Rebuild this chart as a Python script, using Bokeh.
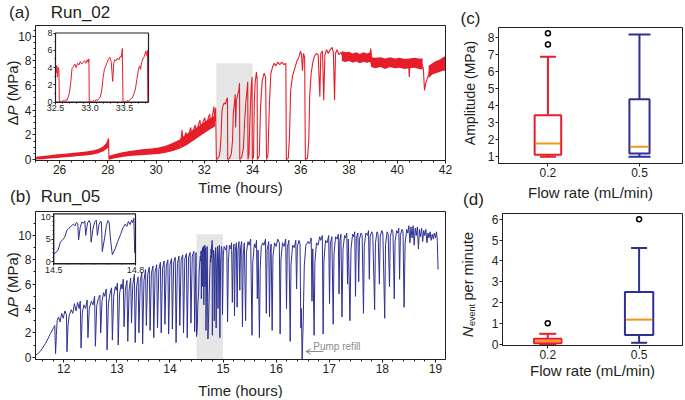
import math
from bokeh.plotting import figure
from bokeh.models import (Range1d, LinearAxis, FixedTicker, SingleIntervalTicker,
                          Label, Arrow, OpenHead)
from bokeh.embed import file_html
from bokeh.resources import INLINE

# ======================= DATA =======================
# ---- Run_02 (panel a): noisy bands (time h, lower MPa, upper MPa)
r02_band1_t = [25.0, 25.3, 25.6, 25.9, 26.2, 26.5, 26.8, 27.1, 27.4, 27.6, 27.8, 27.95, 28.04]
r02_band1_lo = [0.0, 0.02, 0.08, 0.12, 0.18, 0.22, 0.28, 0.32, 0.40, 0.50, 0.65, 0.85, 1.0]
r02_band1_hi = [0.22, 0.28, 0.35, 0.42, 0.46, 0.52, 0.58, 0.64, 0.75, 0.85, 1.05, 1.35, 1.7]
r02_band2_t = [28.06, 28.3, 28.6, 28.9, 29.2, 29.5, 29.8, 30.1, 30.4, 30.7, 31.0]
r02_band2_lo = [0.0, 0.1, 0.2, 0.28, 0.32, 0.36, 0.40, 0.45, 0.55, 0.70, 0.90]
r02_band2_hi = [0.3, 0.45, 0.58, 0.70, 0.78, 0.85, 0.90, 0.98, 1.12, 1.35, 1.65]
r02_band3_t = [31.0, 31.3, 31.6, 31.9, 32.2, 32.45]
r02_band3_lo = [0.9, 1.2, 1.6, 2.0, 2.4, 2.7]
r02_band3_hi = [1.7, 2.1, 2.5, 2.9, 3.3, 3.6]
r02_band4_t = [37.70, 37.85, 38.00, 38.15, 38.30, 38.45, 38.60, 38.75, 38.88, 38.92, 39.10,
               39.30, 39.50, 39.70, 39.90, 40.10, 40.30, 40.50, 40.70, 40.90, 41.05]
r02_band4_lo = [8.0, 7.9, 8.0, 7.85, 7.95, 7.8, 7.9, 7.85, 7.9, 7.5, 7.4,
                7.5, 7.35, 7.5, 7.4, 7.45, 7.35, 7.4, 7.45, 7.35, 7.3]
r02_band4_hi = [8.8, 8.7, 8.75, 8.6, 8.7, 8.55, 8.7, 8.6, 8.7, 8.3, 8.25,
                8.3, 8.2, 8.3, 8.2, 8.25, 8.15, 8.2, 8.25, 8.2, 8.2]
r02_band5_t = [41.30, 41.45, 41.60, 41.75, 41.90, 42.0]
r02_band5_lo = [6.6, 6.9, 7.0, 7.1, 7.2, 7.2]
r02_band5_hi = [7.6, 7.8, 8.0, 8.1, 8.3, 8.4]

# ---- Run_02 line segments (time h, dP MPa)
r02_drop28 = [(27.96, 1.3), (28.00, 1.55), (28.03, 1.7), (28.045, 0.0), (28.07, 0.15), (28.10, 0.3)]
r02_saw = [
    (31.00, 1.3), (31.05, 1.9), (31.08, 2.4), (31.11, 1.3), (31.18, 1.8), (31.24, 2.2), (31.28, 1.5),
    (31.36, 2.1), (31.44, 2.6), (31.48, 1.9), (31.55, 2.4), (31.62, 2.8), (31.66, 2.1), (31.74, 2.7),
    (31.82, 3.2), (31.86, 2.4), (31.94, 3.0), (32.02, 3.4), (32.06, 2.7), (32.14, 3.2), (32.22, 3.7),
    (32.26, 2.9), (32.33, 3.5), (32.40, 4.3), (32.43, 3.1), (32.47, 4.2), (32.50, 0.0), (32.56, 0.1),
    (32.62, 0.3), (32.66, 0.8), (32.70, 2.2), (32.73, 3.9), (32.78, 4.4), (32.83, 4.6), (32.88, 4.5),
    (32.93, 4.9), (32.96, 5.0), (32.97, 0.0), (33.05, 0.1), (33.12, 0.5), (33.17, 1.5), (33.20, 3.7),
    (33.25, 4.6), (33.28, 5.3), (33.30, 2.6), (33.33, 4.8), (33.38, 5.2), (33.43, 5.6), (33.46, 6.2),
    (33.47, 0.0), (33.55, 0.2), (33.62, 0.9), (33.67, 3.1), (33.72, 4.6), (33.77, 5.6), (33.80, 6.3),
    (33.81, 0.0), (33.85, 0.4), (33.90, 3.8), (33.95, 6.0), (33.98, 6.7), (33.99, 0.0), (34.04, 0.2),
    (34.07, 4.5), (34.11, 6.3), (34.16, 7.1), (34.19, 6.5), (34.20, 0.0), (34.28, 0.3), (34.33, 4.2),
    (34.40, 6.4), (34.48, 7.0), (34.54, 6.7), (34.58, 0.0), (34.64, 0.4), (34.70, 4.6), (34.76, 7.0),
    (34.83, 7.5), (34.90, 7.8), (34.97, 7.6), (35.05, 7.9), (35.13, 7.7), (35.21, 7.9), (35.30, 7.7),
    (35.38, 7.8), (35.40, 0.0), (35.48, 0.1), (35.53, 1.8), (35.58, 5.6), (35.66, 6.8), (35.75, 7.4),
    (35.84, 8.0), (35.92, 8.3), (35.99, 8.8), (36.03, 8.5), (36.07, 7.2), (36.11, 8.6), (36.16, 8.3),
    (36.19, 0.0), (36.28, 0.1), (36.33, 1.5), (36.37, 5.2), (36.43, 7.0), (36.50, 7.9), (36.57, 8.4),
    (36.64, 8.6), (36.72, 8.5), (36.79, 5.1), (36.83, 8.6), (36.90, 8.8), (36.95, 4.8), (37.00, 8.5),
    (37.07, 8.9), (37.14, 8.6), (37.22, 8.9), (37.30, 9.1), (37.35, 8.7), (37.40, 4.8), (37.44, 8.6),
    (37.50, 8.9), (37.58, 8.5), (37.66, 8.7), (37.74, 8.4)]
r02_tail = [
    (37.74, 8.4), (37.90, 8.6), (38.10, 8.2), (38.30, 8.5), (38.50, 8.1), (38.70, 8.4), (38.86, 8.3),
    (38.90, 9.0), (38.95, 8.0), (39.20, 7.9), (39.50, 8.0), (39.80, 7.8), (40.10, 7.9), (40.40, 7.7),
    (40.47, 7.8), (40.50, 6.7), (40.53, 7.7), (40.80, 7.9), (41.00, 7.8), (41.08, 7.4), (41.13, 5.6),
    (41.18, 6.2), (41.25, 6.6), (41.35, 7.2), (41.50, 7.4), (41.70, 7.6), (41.90, 7.8), (42.00, 7.9)]

# ---- inset of Run_02 (32.5 - 33.85 h)
inset_a = [
    (32.500, 2.6), (32.505, 4.3), (32.510, 3.4), (32.520, 4.2), (32.530, 2.9), (32.540, 4.0),
    (32.550, 3.7), (32.555, 0.0), (32.570, 0.1), (32.590, 0.0), (32.610, 0.2), (32.630, 0.1),
    (32.650, 0.3), (32.665, 0.2), (32.680, 0.5), (32.700, 1.0), (32.720, 2.2), (32.740, 3.9),
    (32.760, 4.1), (32.780, 4.4), (32.800, 4.0), (32.820, 4.5), (32.840, 4.3), (32.860, 4.7),
    (32.880, 4.4), (32.900, 4.6), (32.920, 4.8), (32.940, 4.5), (32.960, 4.9), (32.975, 4.6),
    (32.985, 5.0), (32.990, 0.0), (33.010, 0.1), (33.030, 0.0), (33.050, 0.2), (33.070, 0.1),
    (33.090, 0.3), (33.110, 0.2), (33.130, 0.4), (33.150, 0.6), (33.170, 1.3), (33.190, 2.8),
    (33.210, 3.8), (33.230, 4.2), (33.250, 4.6), (33.270, 5.0), (33.290, 5.2), (33.310, 4.6),
    (33.330, 2.4), (33.345, 4.5), (33.360, 4.9), (33.380, 4.8), (33.400, 5.1), (33.420, 4.9),
    (33.440, 5.3), (33.455, 5.2), (33.470, 6.2), (33.480, 0.0), (33.500, 0.1), (33.520, 0.0),
    (33.540, 0.2), (33.560, 0.1), (33.580, 0.3), (33.600, 0.4), (33.620, 0.6), (33.640, 1.0),
    (33.660, 1.5), (33.680, 2.6), (33.700, 3.6), (33.720, 4.2), (33.735, 3.8), (33.750, 4.6),
    (33.770, 5.0), (33.790, 5.3), (33.810, 5.9), (33.825, 5.4), (33.835, 6.0), (33.840, 0.0),
    (33.845, 0.0)]

# ---- Run_05 (panel b) before the zoomed window
r05_pre = [
    (11.47, 0.15), (11.50, 0.25), (11.55, 0.45), (11.60, 0.75), (11.65, 1.10), (11.70, 1.50),
    (11.75, 1.95), (11.80, 2.35), (11.83, 2.60), (11.845, 0.30), (11.86, 1.80), (11.875, 3.00),
    (11.90, 3.30), (11.93, 2.90), (11.96, 3.60), (11.99, 3.20), (12.02, 3.80), (12.05, 3.50),
    (12.06, 0.45), (12.08, 2.60), (12.10, 3.40), (12.14, 3.90), (12.17, 3.60), (12.20, 4.40),
    (12.23, 3.80), (12.26, 4.50), (12.29, 4.00), (12.31, 4.60), (12.325, 0.75), (12.35, 3.70),
    (12.38, 4.30), (12.41, 4.00), (12.44, 4.70), (12.455, 1.60), (12.48, 4.00), (12.52, 4.60),
    (12.55, 4.30), (12.58, 5.00), (12.595, 0.90), (12.62, 4.20), (12.65, 4.80), (12.68, 5.10),
    (12.695, 2.00), (12.72, 4.60), (12.75, 5.30), (12.77, 5.00), (12.80, 5.60), (12.815, 0.60),
    (12.84, 4.40), (12.87, 5.20), (12.90, 5.70), (12.915, 1.40), (12.94, 5.00), (12.97, 5.80),
    (12.99, 5.50), (13.01, 6.10), (13.025, 1.00), (13.05, 5.20), (13.08, 6.00), (13.10, 5.60),
    (13.12, 6.40), (13.135, 2.50), (13.16, 5.60), (13.19, 6.30), (13.205, 1.30), (13.23, 5.50),
    (13.26, 6.50), (13.275, 2.80), (13.30, 6.00), (13.33, 6.80), (13.345, 1.20), (13.37, 5.80),
    (13.40, 6.60), (13.415, 2.00), (13.44, 6.20), (13.47, 7.00), (13.485, 1.10), (13.51, 6.30),
    (13.54, 7.20), (13.555, 2.60), (13.58, 6.80), (13.61, 7.40), (13.625, 2.20), (13.65, 6.90),
    (13.68, 7.50), (13.695, 1.60), (13.72, 7.00), (13.75, 7.60), (13.765, 2.40), (13.79, 7.20),
    (13.82, 7.80), (13.835, 2.00), (13.86, 7.30), (13.89, 7.90), (13.905, 2.70), (13.93, 7.50),
    (13.96, 8.00), (13.975, 1.90), (14.00, 7.60), (14.03, 8.10), (14.045, 2.30), (14.07, 7.80),
    (14.10, 8.20), (14.115, 1.20), (14.14, 7.70), (14.17, 8.30), (14.185, 2.60), (14.21, 8.00),
    (14.24, 8.40), (14.255, 2.00), (14.28, 8.10), (14.31, 8.50), (14.325, 1.60), (14.35, 8.20),
    (14.38, 8.60), (14.395, 2.80), (14.42, 8.30), (14.45, 8.70), (14.465, 2.10), (14.49, 8.60)]

# ---- Run_05 zoomed window (inset, 14.5 - 14.8 h)
inset_b = [
    (14.500, 1.7), (14.508, 2.0), (14.516, 2.6), (14.524, 4.3), (14.532, 4.8), (14.540, 5.4),
    (14.548, 6.9), (14.556, 7.4), (14.564, 7.9), (14.572, 8.3), (14.578, 7.9), (14.583, 8.7),
    (14.588, 8.4), (14.591, 4.8), (14.597, 7.6), (14.603, 8.8), (14.609, 8.5), (14.614, 9.0),
    (14.617, 5.8), (14.624, 8.6), (14.630, 9.1), (14.634, 8.5), (14.637, 4.3), (14.644, 7.4),
    (14.651, 8.9), (14.656, 9.2), (14.660, 5.8), (14.666, 8.2), (14.672, 9.0), (14.675, 8.6),
    (14.678, 2.2), (14.686, 5.0), (14.693, 8.0), (14.699, 9.1), (14.703, 8.8), (14.709, 4.5),
    (14.715, 1.5), (14.725, 2.8), (14.735, 4.5), (14.745, 6.0), (14.755, 7.6), (14.762, 8.3),
    (14.768, 7.8), (14.774, 8.9), (14.780, 8.2), (14.786, 9.2), (14.790, 8.6), (14.794, 9.6),
    (14.797, 2.0), (14.800, 1.8)]

# ---- Run_05 after the zoomed window
r05_post = [
    (14.810, 6.5), (14.820, 8.8), (14.830, 8.4), (14.835, 3.0), (14.845, 7.8), (14.860, 9.0),
    (14.870, 2.4), (14.880, 7.5), (14.895, 9.1), (14.905, 4.0), (14.915, 8.2), (14.930, 9.2),
    (14.940, 1.6), (14.955, 7.9), (14.970, 9.1), (14.980, 8.7), (14.990, 3.5), (15.005, 8.4),
    (15.020, 9.1), (15.050, 8.8), (15.070, 9.2), (15.085, 2.9), (15.100, 7.8), (15.120, 9.2),
    (15.140, 8.9), (15.160, 9.4), (15.175, 4.5), (15.190, 8.5), (15.205, 9.3), (15.215, 3.4),
    (15.230, 8.7), (15.250, 9.4), (15.265, 4.1), (15.280, 8.8), (15.300, 9.5), (15.315, 5.5),
    (15.330, 9.0), (15.350, 9.5), (15.365, 2.5), (15.380, 8.4), (15.400, 9.4), (15.425, 3.0),
    (15.440, 8.6), (15.470, 9.5), (15.490, 9.2), (15.520, 9.7), (15.545, 1.8), (15.560, 7.8),
    (15.590, 9.3), (15.610, 9.0), (15.630, 9.6), (15.645, 4.8), (15.660, 8.8), (15.685, 1.6),
    (15.700, 7.3), (15.720, 9.1), (15.750, 9.4), (15.770, 9.2), (15.800, 9.7), (15.815, 3.6),
    (15.830, 8.8), (15.860, 9.5), (15.875, 3.3), (15.890, 8.6), (15.905, 9.3), (15.925, 2.2),
    (15.940, 8.3), (15.970, 9.4), (16.000, 9.1), (16.030, 9.7), (16.060, 9.4), (16.075, 1.9),
    (16.090, 8.0), (16.120, 9.4), (16.150, 9.1), (16.180, 9.7), (16.195, 4.0), (16.210, 9.0),
    (16.240, 9.6), (16.265, 1.3), (16.280, 7.6), (16.310, 9.2), (16.340, 9.0), (16.370, 9.6),
    (16.385, 5.6), (16.400, 9.1), (16.430, 9.6), (16.450, 9.3), (16.465, 2.4), (16.475, 4.0),
    (16.490, -0.19), (16.510, 3.0), (16.530, 7.5), (16.560, 9.2), (16.600, 9.5), (16.630, 9.3),
    (16.660, 9.8), (16.675, 4.6), (16.690, 8.9), (16.715, 1.8), (16.730, 7.8), (16.760, 9.4),
    (16.790, 9.2), (16.820, 9.9), (16.840, 9.6), (16.870, 10.0), (16.885, 1.9), (16.900, 7.9),
    (16.930, 9.6), (16.960, 9.4), (16.990, 10.0), (17.005, 4.4), (17.020, 9.3), (17.050, 9.9),
    (17.075, 2.7), (17.090, 8.5), (17.120, 9.9), (17.150, 9.7), (17.170, 10.1), (17.185, 5.2),
    (17.200, 9.6), (17.220, 10.1), (17.240, 3.3), (17.260, 8.9), (17.290, 10.0), (17.310, 9.8),
    (17.330, 10.2), (17.345, 6.0), (17.360, 9.7), (17.390, 3.0), (17.410, 8.9), (17.440, 10.1),
    (17.460, 9.9), (17.480, 10.3), (17.495, 5.0), (17.510, 9.8), (17.540, 10.2), (17.555, 6.2),
    (17.570, 9.7), (17.600, 10.2), (17.620, 10.0), (17.645, 3.6), (17.660, 9.1), (17.690, 10.2),
    (17.720, 10.0), (17.740, 10.4), (17.755, 6.4), (17.770, 9.9), (17.800, 10.3), (17.820, 10.1),
    (17.855, 3.9), (17.870, 9.4), (17.900, 10.3), (17.920, 10.1), (17.945, 6.0), (17.960, 9.9),
    (17.990, 10.4), (18.010, 10.2), (18.045, 3.2), (18.060, 9.2), (18.090, 10.3), (18.110, 10.1),
    (18.135, 5.8), (18.150, 9.9), (18.180, 10.5), (18.200, 10.3), (18.225, 4.8), (18.240, 9.5),
    (18.270, 10.4), (18.290, 10.2), (18.310, 10.6), (18.325, 6.4), (18.340, 10.0), (18.370, 10.5),
    (18.390, 10.3), (18.410, 4.1), (18.430, 9.4), (18.460, 10.5), (18.480, 10.2), (18.500, 10.8),
    (18.520, 9.4), (18.540, 10.7), (18.560, 9.8), (18.580, 10.8), (18.600, 9.2), (18.620, 10.6),
    (18.640, 10.0), (18.660, 10.7), (18.680, 8.9), (18.700, 10.5), (18.720, 9.9), (18.740, 10.6),
    (18.760, 9.5), (18.780, 10.4), (18.800, 10.0), (18.820, 10.5), (18.840, 9.4), (18.860, 10.2),
    (18.880, 9.8), (18.900, 10.3), (18.920, 9.6), (18.940, 10.1), (18.960, 9.7), (18.980, 10.2),
    (19.000, 9.8), (19.020, 10.3), (19.035, 9.6), (19.050, 7.2)]

# shaded windows (time start, time end) and their heights
shade_a_t = [32.5, 34.0]
shade_a_top = 7.8
shade_b_t = [14.5, 15.0]
shade_b_top = 10.1
# pump refill annotation (arrow from t0 to t1 at dP level, text position)
pump_t = [16.89, 16.56]
pump_p = 0.47
pump_text = "Pump refill"
pump_text_pos = (16.70, 0.9)

# ---- box plots
flow_rates = ["0.2", "0.5"]
amp_lo = [1.0, 1.0]
amp_q1 = [1.12, 1.20]
amp_med = [1.78, 1.59]
amp_q3 = [3.44, 4.38]
amp_hi = [6.86, 8.17]
amp_out_idx = [0, 0]
amp_out_val = [7.59, 8.25]
nev_lo = [0.0, 0.08]
nev_q1 = [0.06, 0.45]
nev_med = [0.16, 1.19]
nev_q3 = [0.27, 2.51]
nev_hi = [0.51, 4.62]
nev_out_idx = [0, 1]
nev_out_val = [1.02, 6.0]

# ======================= STYLE / LAYOUT =======================
FONT = "Liberation Sans"
TXT = "#231f20"
RED = "#e61e2a"
BLUE = "#2e3192"
ORANGE = "#f7941d"
SHADE = "#e6e6e6"
GRAY = "#8c8c8c"
W, H = 684, 398

# one canvas; every panel gets its own pair of ranges mapped onto a pixel box
p = figure(width=W, height=H, x_range=Range1d(0, W), y_range=Range1d(0, H),
           x_axis_type=None, y_axis_type=None, min_border=0, output_backend="svg",
           toolbar_location=None)
p.outline_line_color = None
p.background_fill_color = "white"
p.border_fill_color = "white"
p.title.visible = False


def xmap(px0, px1, lo, hi):
    s = (hi - lo) / (px1 - px0)
    start = lo - px0 * s
    return Range1d(start, start + W * s)


def ymap(py_top, py_bot, lo, hi):
    s = (hi - lo) / (py_bot - py_top)
    start = lo - (H - py_bot) * s
    return Range1d(start, start + H * s)


# panel boxes in pixels (left, right, top, bottom) and data limits
PANELS = {
    "a": ((35, 445, 25, 160), (25, 42), (-0.08, 10.87)),
    "b": ((35, 445, 211, 359), (11.467, 19.19), (-0.19, 11.97)),
    "c": ((498, 682, 27, 163), (-0.54, 1.47), (0.61, 8.58)),
    "d": ((502, 682, 213, 345), (-0.495, 1.475), (-0.05, 6.27)),
    "ia": ((55, 148, 32.5, 101.7), (32.5, 33.85), (0, 8)),
    "ib": ((53.3, 135, 213.3, 263.3), (14.5, 14.8), (-0.5, 10.6)),
}
xr_, yr_ = {}, {}
for k, (box, xl, yl) in PANELS.items():
    xr_[k] = xmap(box[0], box[1], xl[0], xl[1])
    yr_[k] = ymap(box[2], box[3], yl[0], yl[1])
p.extra_x_ranges = xr_
p.extra_y_ranges = yr_


def style_axis(ax, tick_size="12px", tick_out=3, minor_out=2):
    ax.axis_line_color = TXT
    ax.axis_line_width = 1
    ax.major_tick_line_color = TXT
    ax.minor_tick_line_color = TXT
    ax.major_tick_in = 0
    ax.major_tick_out = tick_out
    ax.minor_tick_in = 0
    ax.minor_tick_out = minor_out
    ax.major_label_text_font = FONT
    ax.major_label_text_font_size = tick_size
    ax.major_label_text_color = TXT
    ax.major_label_standoff = 1


def panel_axes(k, xticker, yticker, xlabels=None, small=False):
    box, xl, yl = PANELS[k]
    axb = LinearAxis(x_range_name=k, y_range_name=k, fixed_location=yl[0], bounds=xl,
                     ticker=xticker)
    axl = LinearAxis(x_range_name=k, y_range_name=k, fixed_location=xl[0], bounds=yl,
                     ticker=yticker)
    if xlabels:
        axb.major_label_overrides = xlabels
    for ax in (axb, axl):
        if small:
            style_axis(ax, tick_size="9px", tick_out=2, minor_out=1)
        else:
            style_axis(ax)
    p.add_layout(axb, "below")
    p.add_layout(axl, "left")


def frame_box(k, fill=None, width=1):
    box, xl, yl = PANELS[k]
    p.quad(left=[xl[0]], right=[xl[1]], bottom=[yl[0]], top=[yl[1]], x_range_name=k,
           y_range_name=k, fill_color=fill, line_color=TXT, line_width=width)


def ptext(x, y, text, size, angle=0.0, italic=False, color=TXT, align="center"):
    p.add_layout(Label(x=x, y=H - y, text=text, text_font=FONT, text_font_size=size,
                       text_font_style="italic" if italic else "normal", text_color=color,
                       text_align=align, text_baseline="middle", angle=angle))


def xs(pts):
    return [a for a, b in pts]


def ys(pts):
    return [b for a, b in pts]


# ======================= PANEL (a) =======================
p.quad(left=[shade_a_t[0]], right=[shade_a_t[1]], bottom=[0], top=[shade_a_top],
       x_range_name="a", y_range_name="a", fill_color=SHADE, line_color=None)
for bt, blo, bhi in [(r02_band1_t, r02_band1_lo, r02_band1_hi),
                     (r02_band2_t, r02_band2_lo, r02_band2_hi),
                     (r02_band3_t, r02_band3_lo, r02_band3_hi),
                     (r02_band4_t, r02_band4_lo, r02_band4_hi),
                     (r02_band5_t, r02_band5_lo, r02_band5_hi)]:
    p.varea(x=bt, y1=blo, y2=bhi, x_range_name="a", y_range_name="a", fill_color=RED)
for seg in (r02_drop28, r02_saw, r02_tail):
    p.line(xs(seg), ys(seg), x_range_name="a", y_range_name="a", line_color=RED,
           line_width=1.1)
frame_box("a")
panel_axes("a", SingleIntervalTicker(interval=2, num_minor_ticks=4),
           SingleIntervalTicker(interval=2, num_minor_ticks=4))

# inset (a)
frame_box("ia", fill="white", width=1.2)
p.line(xs(inset_a), ys(inset_a), x_range_name="ia", y_range_name="ia", line_color=RED,
       line_width=1)
panel_axes("ia",
           FixedTicker(ticks=[32.5, 33.0, 33.5],
                       minor_ticks=[32.6, 32.7, 32.8, 32.9, 33.1, 33.2, 33.3, 33.4, 33.6, 33.7,
                                    33.8]),
           FixedTicker(ticks=[0, 2, 4, 6, 8], minor_ticks=[1, 3, 5, 7]),
           xlabels={32.5: "32.5", 33.0: "33.0", 33.5: "33.5"}, small=True)

# ======================= PANEL (b) =======================
p.quad(left=[shade_b_t[0]], right=[shade_b_t[1]], bottom=[PANELS["b"][2][0]],
       top=[shade_b_top], x_range_name="b", y_range_name="b", fill_color=SHADE,
       line_color=None)
r05_all = r05_pre + inset_b + r05_post
p.line(xs(r05_all), ys(r05_all), x_range_name="b", y_range_name="b", line_color=BLUE,
       line_width=1)
frame_box("b")
panel_axes("b", SingleIntervalTicker(interval=1, num_minor_ticks=5),
           SingleIntervalTicker(interval=2, num_minor_ticks=2))
p.add_layout(Arrow(end=OpenHead(size=5, line_color=GRAY, line_width=1),
                   x_start=pump_t[0], y_start=pump_p, x_end=pump_t[1], y_end=pump_p,
                   x_range_name="b", y_range_name="b", line_color=GRAY, line_width=1))
p.add_layout(Label(x=pump_text_pos[0], y=pump_text_pos[1], text=pump_text,
                   x_range_name="b", y_range_name="b", text_font=FONT,
                   text_font_size="10px", text_color=GRAY, text_baseline="middle"))

# inset (b)
frame_box("ib", fill="white", width=1.2)
p.line(xs(inset_b), ys(inset_b), x_range_name="ib", y_range_name="ib", line_color=BLUE,
       line_width=1)
panel_axes("ib",
           FixedTicker(ticks=[14.5, 14.8], minor_ticks=[14.55, 14.6, 14.65, 14.7, 14.75]),
           FixedTicker(ticks=[0, 5, 10], minor_ticks=[1, 2, 3, 4, 6, 7, 8, 9]),
           xlabels={14.5: "14.5", 14.8: "14.8"}, small=True)

# ======================= BOX PANELS =======================
def box_panel(k, lo, q1, med, q3, hi, out_i, out_v, box_w, cap_px, yticks):
    idx = list(range(len(flow_rates)))
    cols = [RED, BLUE]
    kw = dict(x_range_name=k, y_range_name=k)
    p.segment(x0=idx, y0=q3, x1=idx, y1=hi, line_color=cols, line_width=2, **kw)
    p.segment(x0=idx, y0=lo, x1=idx, y1=q1, line_color=cols, line_width=2, **kw)
    p.scatter(x=idx, y=hi, marker="dash", size=cap_px, line_color=cols, line_width=2, **kw)
    p.scatter(x=idx, y=lo, marker="dash", size=cap_px, line_color=cols, line_width=2, **kw)
    p.vbar(x=idx, width=box_w, bottom=q1, top=q3, fill_color="white", line_color=cols,
           line_width=2, **kw)
    mx0 = [i - bw / 2 + 0.01 for i, bw in zip(idx, box_w)]
    mx1 = [i + bw / 2 - 0.01 for i, bw in zip(idx, box_w)]
    p.segment(x0=mx0, y0=med, x1=mx1, y1=med, line_color=ORANGE, line_width=2, **kw)
    p.scatter(x=out_i, y=out_v, marker="circle", size=5, fill_color="white",
              line_color="black", line_width=1.5, **kw)
    frame_box(k)
    xt = FixedTicker(ticks=idx, minor_ticks=[])
    yt = FixedTicker(ticks=yticks, minor_ticks=[])
    panel_axes(k, xt, yt, xlabels={i: s for i, s in zip(idx, flow_rates)})


box_panel("c", amp_lo, amp_q1, amp_med, amp_q3, amp_hi, amp_out_idx, amp_out_val,
          [0.29, 0.22], [16, 22], [1, 2, 3, 4, 5, 6, 7, 8])
box_panel("d", nev_lo, nev_q1, nev_med, nev_q3, nev_hi, nev_out_idx, nev_out_val,
          [0.30, 0.31], [17, 16], [0, 1, 2, 3, 4, 5, 6])

# ======================= TEXTS =======================
HP = math.pi / 2
ptext(19, 11.5, "(a)", "17px")
ptext(80, 11.5, "Run_02", "17px")
ptext(20, 196, "(b)", "17px")
ptext(70, 196, "Run_05", "17px")
ptext(470, 18, "(c)", "17px")
ptext(473, 199, "(d)", "17px")
# y labels of (a) and (b): Delta, italic P, (MPa)
for yd, yp, ym in [(120, 110, 80.4), (311.7, 301.7, 272.1)]:
    ptext(11.5, yd, "Δ", "15px", angle=HP)
    ptext(11.5, yp, "P", "15px", angle=HP, italic=True)
    ptext(11.5, ym, "(MPa)", "15px", angle=HP)
ptext(240, 187, "Time (hours)", "15px")
ptext(240, 390, "Time (hours)", "15px")
ptext(469, 92.5, "Amplitude (MPa)", "14px", angle=HP)
ptext(590, 192, "Flow rate (mL/min)", "15px")
ptext(592, 370, "Flow rate (mL/min)", "15px")
ptext(467, 331.3, "N", "15px", angle=HP, italic=True)
ptext(471, 314.4, "event", "9px", angle=HP)
ptext(467, 265.7, "per minute", "14.5px", angle=HP)

open("out.html", "w").write(file_html(p, INLINE))
